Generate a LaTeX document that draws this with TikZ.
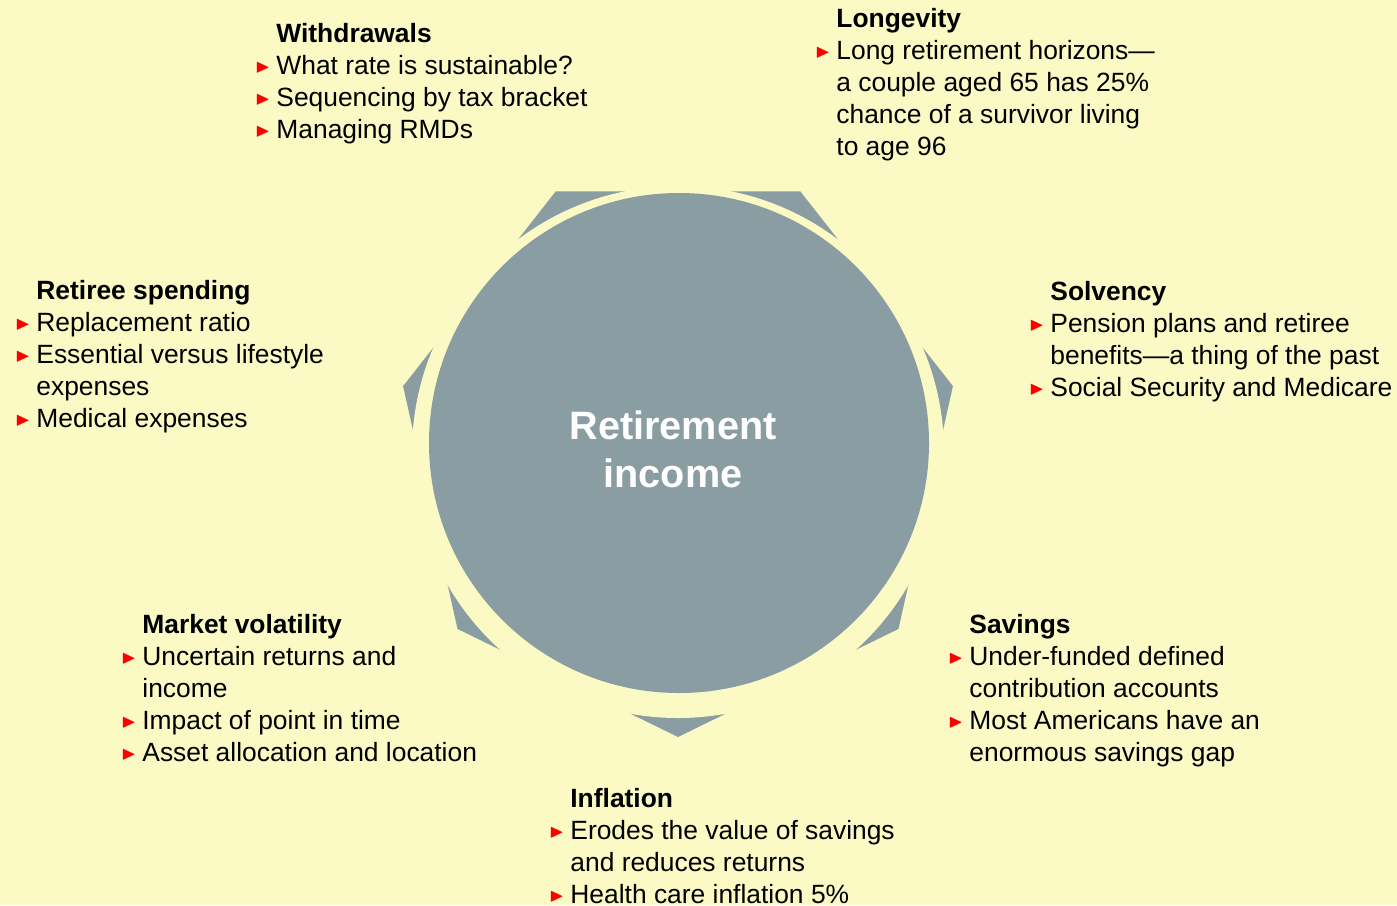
\documentclass[tikz,border=0pt]{standalone}
\usepackage{fontspec}
\usepackage{amssymb}
\usepackage{graphicx}
\setmainfont{Liberation Sans}
\usetikzlibrary{positioning}
\definecolor{paleyellow}{RGB}{251,249,196}
\definecolor{slategray}{RGB}{138,157,162}
\newcommand\bul{\makebox[10.5pt][l]{\textcolor{red}{\raisebox{1.0pt}{\scalebox{0.72}{$\blacktriangleright$}}}}}
\newcommand\nob{\makebox[10.5pt][l]{}}
\tikzset{
topic/.style={anchor=base west, inner sep=0pt, font=\fontsize{13.2}{16}\selectfont},
core/.style={align=center, text=white, inner sep=0pt, font=\fontsize{19.8}{24}\selectfont\bfseries},
}

\begin{document}
\begin{tikzpicture}[x=0.5pt,y=-0.5pt]
            \path[use as bounding box, fill=paleyellow] (0,0) rectangle (1397,905);
            % heptagon, ring and disc
            \begin{scope}[shift={(678,450)}]
                \fill[slategray] (0,287) \foreach \k in {1,...,6}{ -- ({282*cos(90+\k*360/7)},{287*sin(90+\k*360/7)})} -- cycle;
            \end{scope}
            \fill[paleyellow] (678,452) circle[radius=266];
            \fill[slategray] (679,443) circle[radius=250];
            \node[core] (income) at (673,449) {Retirement\\income};
            % topics
            \node[topic] (withdrawals) at (255,42.5) {\begin{tabular}[t]{@{}l@{}l@{}}
                \nob & \textbf{Withdrawals}\\
                \bul & What rate is sustainable?\\
                \bul & Sequencing by tax bracket\\
                \bul & Managing RMDs
            \end{tabular}};
            \node[topic] (longevity) at (815,27.5) {\begin{tabular}[t]{@{}l@{}l@{}}
                \nob & \textbf{Longevity}\\
                \bul & Long retirement horizons---\\
                & a couple aged 65 has 25\%\\
                & chance of a survivor living\\
                & to age 96
            \end{tabular}};
            \node[topic] (spending) at (15,299.5) {\begin{tabular}[t]{@{}l@{}l@{}}
                \nob & \textbf{Retiree spending}\\
                \bul & Replacement ratio\\
                \bul & Essential versus lifestyle\\
                & expenses\\
                \bul & Medical expenses
            \end{tabular}};
            \node[topic] (solvency) at (1029,300.5) {\begin{tabular}[t]{@{}l@{}l@{}}
                \nob & \textbf{Solvency}\\
                \bul & Pension plans and retiree\\
                & benefits---a thing of the past\\
                \bul & Social Security and Medicare
            \end{tabular}};
            \node[topic] (volatility) at (121,633.5) {\begin{tabular}[t]{@{}l@{}l@{}}
                \nob & \textbf{Market volatility}\\
                \bul & Uncertain returns and\\
                & income\\
                \bul & Impact of point in time\\
                \bul & Asset allocation and location
            \end{tabular}};
            \node[topic] (savings) at (948,633.5) {\begin{tabular}[t]{@{}l@{}l@{}}
                \nob & \textbf{Savings}\\
                \bul & Under-funded defined\\
                & contribution accounts\\
                \bul & Most Americans have an\\
                & enormous savings gap
            \end{tabular}};
            \node[topic] (inflation) at (549,807.5) {\begin{tabular}[t]{@{}l@{}l@{}}
                \nob & \textbf{Inflation}\\
                \bul & Erodes the value of savings\\
                & and reduces returns\\
                \bul & Health care inflation 5\%
            \end{tabular}};
        \end{tikzpicture}
\end{document}
